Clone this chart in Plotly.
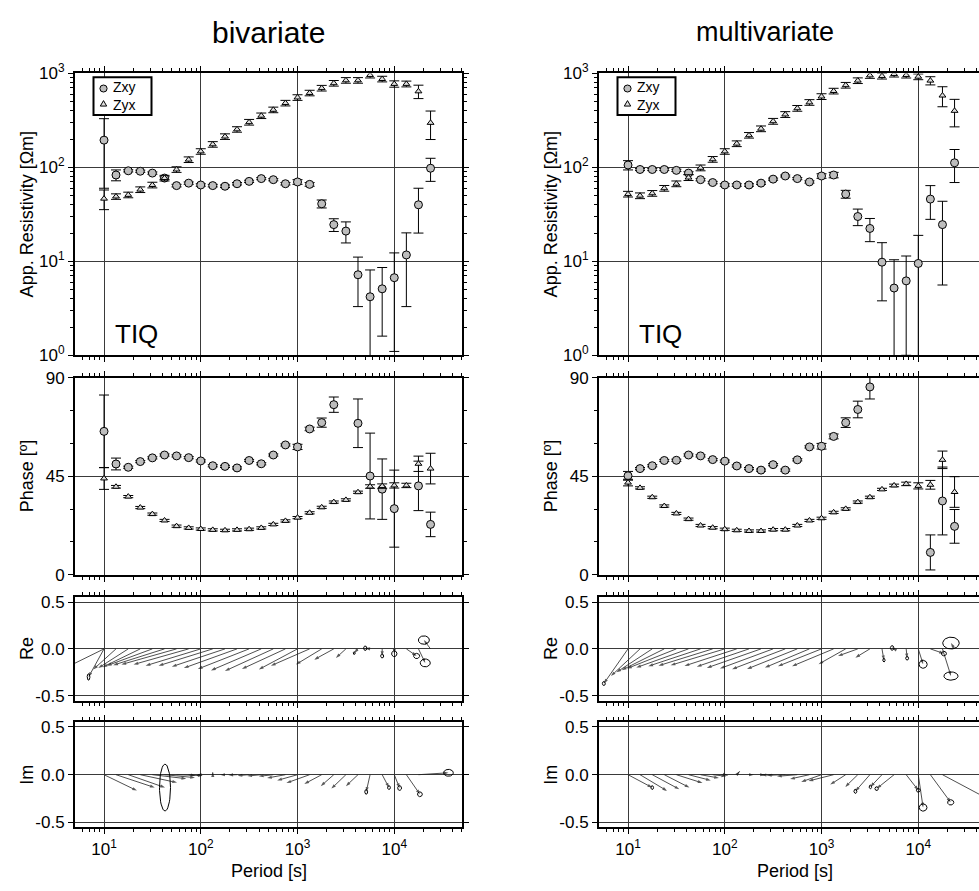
import numpy as np
import plotly.graph_objects as go

# ---------------- data ----------------
periods = [10.0, 13.3, 17.8, 23.7, 31.6, 42.2, 56.2, 75.0, 100, 133, 178, 237, 316, 422,
           562, 750, 1000, 1334, 1778, 2371, 3162, 4217, 5623, 7499, 10000, 13335, 17783, 23714]

# bivariate estimates
rho_xy_b = [195, 83, 92, 91, 87, 77, 64, 68, 65, 64, 63, 67, 71, 76, 74, 67, 70, 66, 41, 24.6, 21, 7.2, 4.2, 5.1, 6.7, 11.7, 40, 98]
drho_xy_b = [135, 11, 2.5, 2.5, 2.5, 2.5, 2, 2, 2, 2, 2, 2, 2, 2, 2, 2, 4, 3, 4, 3.8, 5.3, 3.9, 3.9, 3.5, 5.6, 8.4, 20, 27]
rho_yx_b = [46.5, 49, 51, 58, 65, 77, 95, 121, 148, 176, 213, 254, 303, 355, 410, 484, 555, 620, 698, 787, 845, 845, 961, 873, 774, 774, 645, 298]
drho_yx_b = [11, 3.3, 3.5, 4, 4.5, 5.3, 6.5, 8.3, 10, 12, 14.5, 17, 21, 24, 28, 33, 38, 42, 48, 54, 58, 58, 66, 60, 60, 55, 105, 100]
ph_xy_b = [65.5, 50.6, 49.1, 51.7, 53.4, 54.7, 54.3, 53.5, 52.0, 49.8, 49.5, 48.8, 52.2, 50.7, 54.7, 59.3, 58.4, 66.6, 69.5, 77.7, None, 69.2, 45.1, 39.1, 30.2, None, 40.6, 23.0]
dph_xy_b = [16.6, 2.7, 0.5, 0.5, 0.5, 0.5, 0.5, 0.5, 0.5, 0.5, 0.5, 0.5, 0.5, 0.5, 0.5, 0.5, 1.2, 0.8, 2.1, 3.5, None, 11.1, 19.6, 13.8, 17.6, None, 11.3, 5.6]
ph_yx_b = [44.0, 40.2, 35.7, 30.7, 27.7, 24.8, 22.2, 21.4, 20.9, 20.5, 20.3, 20.5, 20.8, 21.4, 23.0, 24.6, 26.1, 28.3, 30.8, 33.2, 34.2, 37.7, 40.3, 40.5, 40.8, 40.8, 50.7, 48.5]
dph_yx_b = [5.0, 0.6, 0.5, 0.5, 0.5, 0.5, 0.5, 0.5, 0.5, 0.5, 0.5, 0.5, 0.5, 0.5, 0.5, 0.5, 0.5, 0.5, 0.5, 0.5, 0.5, 0.5, 0.8, 1.0, 1.2, 1.0, 3.5, 7.0]

# multivariate estimates
rho_xy_m = [106, 95, 95, 95, 93, 87, 74, 69, 65, 65, 65, 68, 75, 81, 76, 70, 81, 83, 52, 30, 22.4, 9.8, 5.2, 6.2, 9.5, 46, 24.6, 112]
drho_xy_m = [12, 2.5, 2.5, 2.5, 2.5, 3, 2, 2, 2, 2, 2, 2, 2, 2, 2, 2, 4.5, 5.5, 5, 6, 6.2, 6, 5.2, 5.2, 9.4, 18, 19, 43]
rho_yx_m = [52, 50, 53, 60, 67, 78, 99, 122, 148, 179, 220, 258, 310, 366, 426, 492, 568, 650, 750, 839, 953, 938, 985, 961, 923, 839, 582, 400]
drho_yx_m = [3.6, 3.5, 3.7, 4.2, 4.7, 5.5, 7, 8.5, 10, 12.5, 15, 18, 22, 26, 30, 34, 40, 45, 52, 58, 66, 66, 69, 67, 65, 84, 140, 130]
ph_xy_m = [45.2, 48.5, 49.8, 52.2, 52.3, 54.7, 54.3, 52.6, 51.9, 49.7, 48.5, 47.8, 50.3, 47.8, 52.5, 58.4, 58.7, 63.2, 69.5, 75.5, 85.8, None, None, None, None, 10.2, 33.7, 22.1]
dph_xy_m = [2.0, 0.5, 0.5, 0.5, 0.5, 0.5, 0.5, 0.5, 0.5, 0.5, 0.5, 0.5, 0.5, 0.5, 0.5, 0.5, 1.3, 1.1, 2.2, 3.8, 5.5, None, None, None, None, 8.0, 15.5, 7.7]
ph_yx_m = [42.1, 39.7, 35.4, 31.4, 28.0, 25.4, 22.5, 21.5, 20.8, 20.3, 20.0, 20.0, 20.6, 20.6, 22.5, 24.8, 25.8, 28.5, 30.1, 33.2, 35.4, 39.0, 40.8, 41.5, 40.6, 41.1, 52.5, 37.8]
dph_yx_m = [1.5, 0.5, 0.5, 0.5, 0.5, 0.5, 0.5, 0.5, 0.5, 0.5, 0.5, 0.5, 0.5, 0.5, 0.5, 0.5, 0.5, 0.5, 0.5, 0.5, 0.5, 0.5, 0.6, 0.8, 1.4, 2.0, 4.0, 7.0]

# induction arrows: tip offsets (x in decades, y in tipper units) and error-ellipse semi-axes
N = None
re_b_dx = [-0.16, -0.235, -0.31, -0.39, -0.47, -0.53, -0.57, -0.57, -0.57, -0.56, -0.55, -0.55, -0.53, -0.52, -0.50, -0.45, -0.40, -0.40, -0.267, -0.203, -0.103, -0.039, -0.05, 0.0, 0.0, 0.106, 0.07, -0.069]
re_b_dy = [-0.30, -0.22, -0.205, -0.195, -0.18, -0.174, -0.167, -0.167, -0.18, -0.18, -0.19, -0.205, -0.215, -0.23, -0.236, -0.215, -0.22, -0.18, -0.167, -0.115, -0.097, -0.045, 0.007, -0.076, -0.052, -0.076, -0.15, 0.094]
re_b_ea = [0.014, N, N, N, N, N, N, N, N, N, N, N, N, N, N, N, N, N, N, N, N, 0.01, 0.017, 0.016, 0.028, 0.031, 0.052, 0.057]
re_b_eb = [0.035, N, N, N, N, N, N, N, N, N, N, N, N, N, N, N, N, N, N, N, N, 0.015, 0.024, 0.021, 0.031, 0.028, 0.042, 0.045]
# second 10 s estimate of the bivariate real arrow
re_b_dup_period = [10.0]
re_b_dup_dx = [-0.5]
re_b_dup_dy = [-0.254]

im_b_dx = [0.34, 0.40, 0.38, 0.38, 0.35, 0.315, 0.27, 0.07, -0.04, 0.0, -0.05, -0.09, -0.12, -0.145, -0.15, -0.19, -0.21, -0.24, -0.18, -0.135, -0.15, -0.125, -0.04, 0.07, 0.055, 0.14, 0.31, N]
im_b_dy = [-0.167, -0.135, -0.135, -0.083, -0.042, -0.031, -0.01, -0.01, -0.007, 0.025, 0.0, -0.004, -0.01, -0.014, -0.017, -0.035, -0.06, -0.087, -0.097, -0.12, -0.146, -0.12, -0.18, -0.135, -0.14, -0.205, 0.02, N]
im_b_ea = [N, N, 0.057, N, N, N, N, N, N, N, N, N, N, N, N, N, N, N, N, N, N, N, 0.015, 0.015, 0.02, 0.025, 0.05, N]
im_b_eb = [N, N, 0.245, N, N, N, N, N, N, N, N, N, N, N, N, N, N, N, N, N, N, N, 0.025, 0.02, 0.025, 0.025, 0.036, N]

re_m_dx = [-0.25, -0.30, -0.37, -0.44, -0.51, -0.54, -0.54, -0.56, -0.56, -0.54, -0.54, -0.56, -0.55, -0.55, -0.52, -0.46, -0.45, -0.43, -0.28, -0.205, -0.15, 0.02, -0.02, 0.01, 0.05, 0.14, 0.088, -0.037]
re_m_dy = [-0.37, -0.29, -0.25, -0.227, -0.21, -0.20, -0.185, -0.18, -0.175, -0.182, -0.19, -0.203, -0.21, -0.217, -0.215, -0.20, -0.185, -0.185, -0.163, -0.076, -0.094, -0.12, 0.01, -0.10, -0.165, -0.05, -0.29, 0.062]
re_m_ea = [0.015, N, N, N, N, N, N, N, N, N, N, N, N, N, N, N, N, N, N, N, N, 0.012, 0.018, 0.015, 0.042, 0.026, 0.073, 0.085]
re_m_eb = [0.022, N, N, N, N, N, N, N, N, N, N, N, N, N, N, N, N, N, N, N, N, 0.02, 0.025, 0.02, 0.042, 0.024, 0.044, 0.063]

im_m_dx = [0.25, 0.28, 0.28, 0.26, 0.27, 0.23, 0.19, 0.14, 0.03, 0.03, 0.05, 0.04, -0.12, -0.19, -0.21, -0.2, -0.21, -0.26, -0.16, -0.13, -0.15, -0.12, -0.18, 0.125, 0.05, 0.21, 0.5, N]
im_m_dy = [-0.135, -0.17, -0.153, -0.135, -0.087, -0.06, -0.035, -0.017, -0.005, 0.035, 0.0, 0.0, -0.005, -0.007, -0.017, -0.045, -0.076, -0.066, -0.104, -0.128, -0.174, -0.128, -0.146, -0.163, -0.344, -0.29, -0.27, N]
im_m_ea = [0.014, N, N, N, N, N, N, N, N, N, N, N, N, N, N, N, N, N, N, N, 0.015, 0.013, 0.018, 0.02, 0.04, 0.032, N, N]
im_m_eb = [0.02, N, N, N, N, N, N, N, N, N, N, N, N, N, N, N, N, N, N, N, 0.022, 0.02, 0.02, 0.02, 0.038, 0.028, N, N]

column_titles = ["bivariate", "multivariate"]
station = "TIQ"
row_titles = ["App. Resistivity [Ωm]", "Phase [º]", "Re", "Im"]
legend_names = ["Zxy", "Zyx"]
x_tick_vals = [10, 100, 1000, 10000]
x_tick_text = ["10<sup>1</sup>", "10<sup>2</sup>", "10<sup>3</sup>", "10<sup>4</sup>"]
rho_tick_vals = [1, 10, 100, 1000]
rho_tick_text = ["10<sup>0</sup>", "10<sup>1</sup>", "10<sup>2</sup>", "10<sup>3</sup>"]

# ---------------- layout geometry (pixels) ----------------
W, H = 979, 891
col_px = [(75, 462), (599, 979)]
row_px = [(63, 352), (375, 577), (600, 706), (728, 836)]
PX_PER_DEC = 96.75
x_ranges = [[0.7, 4.7], [0.7, 0.7 + (col_px[1][1] - col_px[1][0]) / PX_PER_DEC]]

FONT = "Liberation Sans, Arial, sans-serif"
GRID = "#3a3a3a"
TICK_FONT = 17


def px_x(v):
    return v / W


def px_y(v):
    return 1 - v / H


def minor_log(decades):
    return [m * d for d in decades for m in range(2, 10)]


fig = go.Figure()
layout = dict(width=W, height=H, margin=dict(l=0, r=0, t=0, b=0),
              paper_bgcolor="white", plot_bgcolor="white", showlegend=False,
              font=dict(family=FONT, size=16, color="black"))


def ax_name(i, letter):
    return f"{letter}axis" if i == 1 else f"{letter}axis{i}"


def ref(i, letter):
    return letter if i == 1 else f"{letter}{i}"


for c in range(2):
    for r in range(4):
        i = 1 + c * 4 + r
        xd = [px_x(col_px[c][0]), min(1.0, px_x(col_px[c][1]))]
        yd = [px_y(row_px[r][1]), px_y(row_px[r][0])]
        layout[ax_name(i, "x")] = dict(
            type="log", range=x_ranges[c], domain=xd, anchor=ref(i, "y"),
            showline=True, linewidth=2, linecolor="black", mirror="allticks",
            ticks="outside", ticklen=5, tickwidth=1, tickcolor="black",
            tickvals=x_tick_vals, ticktext=x_tick_text,
            showticklabels=(r == 3), tickfont=dict(size=TICK_FONT),
            showgrid=True, gridcolor=GRID, gridwidth=1, zeroline=False,
            minor=dict(ticks="outside", ticklen=3, tickwidth=1, tickcolor="black",
                       tickvals=minor_log([1, 10, 100, 1000, 10000]), showgrid=False),
        )
        ya = dict(domain=yd, anchor=ref(i, "x"), showline=True, linewidth=2,
                  linecolor="black", mirror=("allticks" if c == 0 else False),
                  ticks="outside", ticklen=5, tickwidth=1, tickcolor="black",
                  showgrid=True, gridcolor=GRID, gridwidth=1, zeroline=False,
                  tickfont=dict(size=TICK_FONT))
        if r == 0:
            ya.update(type="log", range=[0, 3], tickvals=rho_tick_vals, ticktext=rho_tick_text,
                      minor=dict(ticks="outside", ticklen=3, tickwidth=1, tickcolor="black",
                                 tickvals=minor_log([1, 10, 100]), showgrid=False))
        elif r == 1:
            ya.update(range=[0, 90], tickvals=[0, 45, 90],
                      minor=dict(ticks="outside", ticklen=3, tickwidth=1, tickcolor="black",
                                 tickvals=[15, 30, 60, 75], showgrid=False))
        else:
            ya.update(range=[-0.552, 0.552], tickvals=[-0.5, 0.0, 0.5],
                      ticktext=["-0.5", "0.0", "0.5"])
        layout[ax_name(i, "y")] = ya

CIRCLE_FILL = "#bdbdbd"
TRI_FILL = "#dedede"
circle = dict(symbol="circle", size=8, color=CIRCLE_FILL, line=dict(color="black", width=1))
tri = dict(symbol="triangle-up", size=6, color=TRI_FILL, line=dict(color="black", width=1))


def err(a):
    return dict(type="data", array=a, color="black", thickness=1, width=5)


def points(y, dy, marker, i, name):
    return go.Scatter(x=periods, y=y, mode="markers", marker=marker, error_y=err(dy),
                      xaxis=ref(i, "x"), yaxis=ref(i, "y"), name=name, hoverinfo="x+y")


sets = [
    (rho_xy_b, drho_xy_b, rho_yx_b, drho_yx_b, ph_xy_b, dph_xy_b, ph_yx_b, dph_yx_b),
    (rho_xy_m, drho_xy_m, rho_yx_m, drho_yx_m, ph_xy_m, dph_xy_m, ph_yx_m, dph_yx_m),
]
for c, s in enumerate(sets):
    rxy, drxy, ryx, dryx, pxy, dpxy, pyx, dpyx = s
    i0 = 1 + c * 4
    fig.add_trace(points(rxy, drxy, circle, i0, "Zxy"))
    fig.add_trace(points(ryx, dryx, tri, i0, "Zyx"))
    fig.add_trace(points(pxy, dpxy, circle, i0 + 1, "Zxy"))
    fig.add_trace(points(pyx, dpyx, tri, i0 + 1, "Zyx"))


def arrows(per, dx, dy, i):
    xs, ys, sz = [], [], []
    for T, u, v in zip(per, dx, dy):
        if u is None:
            continue
        xs += [T, T * 10 ** u, None]
        ys += [0.0, v, None]
        sz += [0, 5, 0]
    return go.Scatter(x=xs, y=ys, mode="lines+markers",
                      line=dict(color="#222222", width=0.8),
                      marker=dict(symbol="arrow", size=sz, angleref="previous",
                                  color="#111111", line=dict(width=0)),
                      xaxis=ref(i, "x"), yaxis=ref(i, "y"), hoverinfo="skip")


def ellipses(per, dx, dy, ea, eb, i):
    t = np.linspace(0, 2 * np.pi, 49)
    xs, ys = [], []
    for T, u, v, a, b in zip(per, dx, dy, ea, eb):
        if u is None or a is None:
            continue
        cx = np.log10(T) + u
        xs += list(10 ** (cx + a * np.cos(t))) + [None]
        ys += list(v + b * np.sin(t)) + [None]
    return go.Scatter(x=xs, y=ys, mode="lines", line=dict(color="black", width=1),
                      xaxis=ref(i, "x"), yaxis=ref(i, "y"), hoverinfo="skip")


fig.add_trace(arrows(periods, re_b_dx, re_b_dy, 3))
fig.add_trace(arrows(re_b_dup_period, re_b_dup_dx, re_b_dup_dy, 3))
fig.add_trace(ellipses(periods, re_b_dx, re_b_dy, re_b_ea, re_b_eb, 3))
fig.add_trace(arrows(periods, im_b_dx, im_b_dy, 4))
fig.add_trace(ellipses(periods, im_b_dx, im_b_dy, im_b_ea, im_b_eb, 4))
fig.add_trace(arrows(periods, re_m_dx, re_m_dy, 7))
fig.add_trace(ellipses(periods, re_m_dx, re_m_dy, re_m_ea, re_m_eb, 7))
fig.add_trace(arrows(periods, im_m_dx, im_m_dy, 8))
fig.add_trace(ellipses(periods, im_m_dx, im_m_dy, im_m_ea, im_m_eb, 8))

# legend boxes with symbol keys, drawn as shapes and one two-line text block
shapes = []
ann = []
LEG_FONT = 12
line_gap = 1.3 * LEG_FONT
for c in range(2):
    bx0 = col_px[c][0] + 18.5
    bx1 = bx0 + 58
    by0, by1 = 67, 105.5
    kx = bx0 + 10
    cy = (by0 + by1) / 2
    rows_y = [cy - line_gap / 2, cy + line_gap / 2]
    shapes.append(dict(type="rect", xref="paper", yref="paper", x0=px_x(bx0), x1=px_x(bx1),
                       y0=px_y(by1), y1=px_y(by0), line=dict(color="black", width=2),
                       fillcolor="white", layer="above"))
    shapes.append(dict(type="circle", xref="paper", yref="paper",
                       x0=px_x(kx - 3.6), x1=px_x(kx + 3.6),
                       y0=px_y(rows_y[0] + 3.6), y1=px_y(rows_y[0] - 3.6),
                       line=dict(color="black", width=1), fillcolor=CIRCLE_FILL, layer="above"))
    ty = rows_y[1]
    path = (f"M {px_x(kx - 3.2)} {px_y(ty + 2.4)} L {px_x(kx + 3.2)} {px_y(ty + 2.4)} "
            f"L {px_x(kx)} {px_y(ty - 3.2)} Z")
    shapes.append(dict(type="path", xref="paper", yref="paper", path=path,
                       line=dict(color="black", width=1), fillcolor=TRI_FILL, layer="above"))
    ann.append(dict(text="<br>".join(legend_names), x=px_x(kx + 7), y=px_y(cy),
                    xref="paper", yref="paper", showarrow=False, align="left",
                    font=dict(size=LEG_FONT + 2), xanchor="left", yanchor="middle"))

title_cx = [268.5, 765]
title_size = [30, 27]
label_x = [27, 551]
period_cx = [268.5, 795]
for c in range(2):
    ann.append(dict(text=column_titles[c], x=px_x(title_cx[c]), y=px_y(21), xref="paper", yref="paper",
                    showarrow=False, font=dict(size=title_size[c]), xanchor="center", yanchor="middle"))
    ann.append(dict(text=station, x=px_x(col_px[c][0] + 38), y=px_y(348), xref="paper", yref="paper",
                    showarrow=False, font=dict(size=26), xanchor="left", yanchor="bottom"))
    ann.append(dict(text="Period [s]", x=px_x(period_cx[c]), y=px_y(881), xref="paper", yref="paper",
                    showarrow=False, font=dict(size=18), xanchor="center", yanchor="middle"))
    for r in range(4):
        cyr = (row_px[r][0] + row_px[r][1]) / 2
        ann.append(dict(text=row_titles[r], x=px_x(label_x[c]), y=px_y(cyr), xref="paper", yref="paper",
                        showarrow=False, font=dict(size=18), textangle=-90,
                        xanchor="center", yanchor="middle"))
layout["annotations"] = ann
layout["shapes"] = shapes

fig.update_layout(**layout)
fig.write_html("out.html", post_script="document.body.style.margin='0';document.body.style.overflow='hidden';")
